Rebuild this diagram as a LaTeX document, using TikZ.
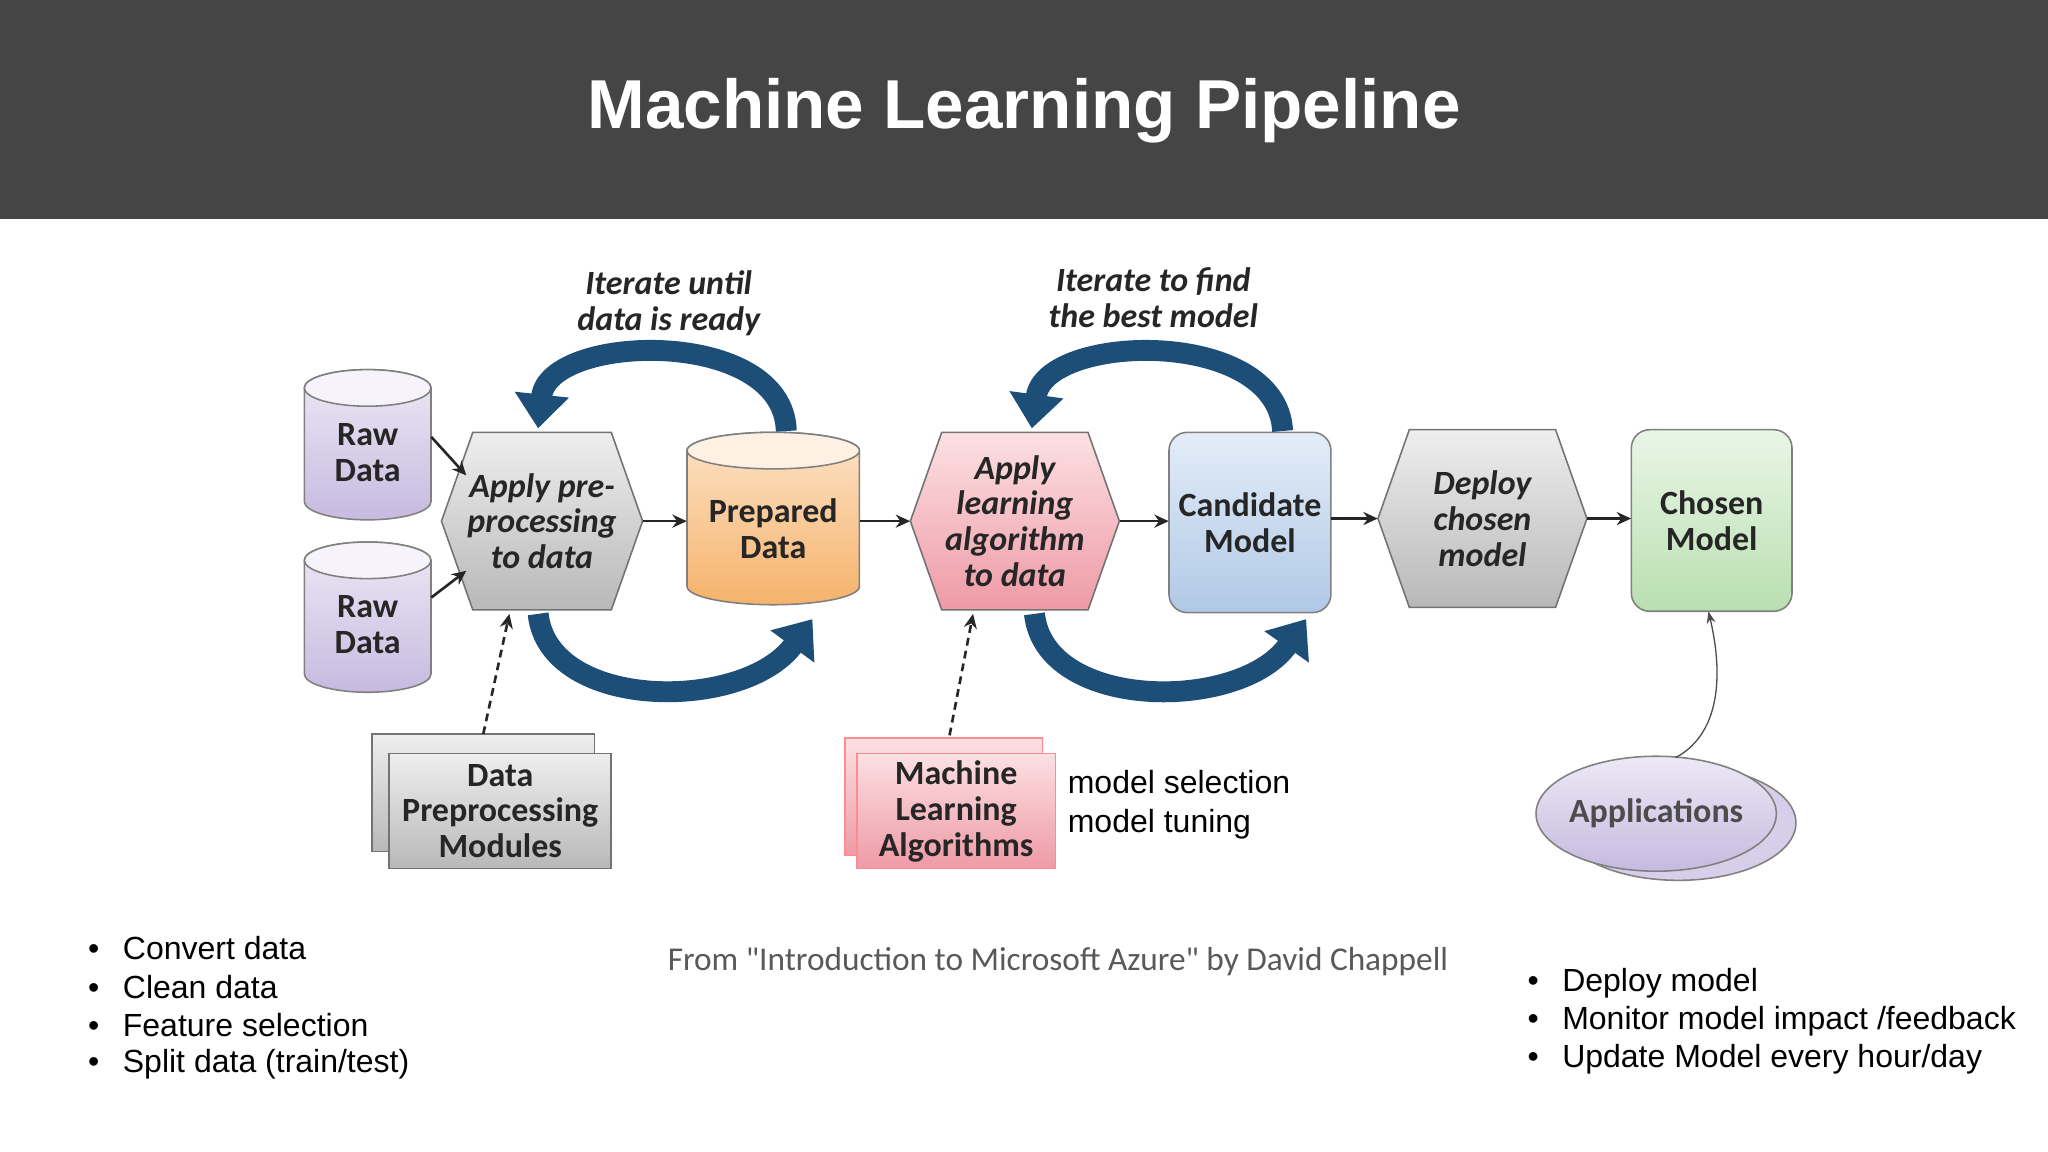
\documentclass[tikz,border=0pt]{standalone}
\usepackage{fontspec}
\setmainfont{Liberation Sans}
\newfontfamily\dgm{Carlito}
\usetikzlibrary{arrows.meta,shapes.geometric}
\definecolor{bigblue}{HTML}{1C4E78}
\definecolor{rtop}{HTML}{EDE9F6}\definecolor{rbot}{HTML}{C6BADF}
\definecolor{gtop}{HTML}{EEEEEE}\definecolor{gbot}{HTML}{B8B8B8}
\definecolor{otop}{HTML}{FDE3C8}\definecolor{obot}{HTML}{F5B26B}
\definecolor{ptop}{HTML}{FCE0E3}\definecolor{pbot}{HTML}{EE9AA5}
\definecolor{btop}{HTML}{E3EDF8}\definecolor{bbot}{HTML}{B0C8E6}
\definecolor{ctop2}{HTML}{E9F6E6}\definecolor{cbot}{HTML}{B9DFB0}
\begin{document}
\begin{tikzpicture}[x=1pt,y=-1pt,
  lbl/.style={font=\dgm\bfseries\fontsize{26}{27.5}\selectfont,align=center,text=black!85},
  ilbl/.style={font=\dgm\bfseries\itshape\fontsize{26}{27.5}\selectfont,align=center,text=black!85},
  flow/.style={-{Stealth[length=11,width=10]},line width=2pt,black!85},
  big/.style={line width=16pt,color=bigblue,-{Triangle[width=40pt,length=26pt]}},
  bul/.style={anchor=west,font=\fontsize{24.5}{26}\selectfont,text=black}]
\useasboundingbox (0,0) rectangle (1568,882);
\fill[white] (0,0) rectangle (1568,882);
\fill[black!73] (0,0) rectangle (1568,168);
\node (title) at (784,85) {\fontsize{53}{56}\selectfont\bfseries\color{white}Machine Learning Pipeline};
\newcommand\mycyl[7]{%
  \colorlet{ctop}{#6}
  \pgfmathsetmacro\rx{(#4-#2)/2}\pgfmathsetmacro\cx{(#4+#2)/2}
  \shade[top color=#6,bottom color=#7,draw=black!50,line width=1.2pt]
    (#2,#3+14) -- (#2,#5-14) arc[start angle=180,end angle=0,x radius=\rx,y radius=14] -- (#4,#3+14) arc[start angle=0,end angle=-180,x radius=\rx,y radius=14] -- cycle;
  \filldraw[fill=ctop!50!white,draw=black!50,line width=1.2pt] (\cx,#3+14) ellipse[x radius=\rx,y radius=14];
  \node[minimum width=#4-#2,minimum height=#5-#3,inner sep=0] (#1) at (\cx,{(#3+#5)/2}) {};}
\newcommand\hexa[7]{%
  \pgfmathsetmacro\my{(#3+#5)/2}
  \shade[top color=#6,bottom color=#7,draw=black!55,line width=1.2pt]
    (#2,\my) -- (#2+24,#3) -- (#4-24,#3) -- (#4,\my) -- (#4-24,#5) -- (#2+24,#5) -- cycle;
  \node[minimum width=#4-#2,minimum height=#5-#3,inner sep=0] (#1) at ({(#2+#4)/2},\my) {};}
\newcommand\rbox[7]{%
  \shade[top color=#6,bottom color=#7,draw=black!50,line width=1.2pt,rounded corners=14] (#2,#3) rectangle (#4,#5);
  \node[minimum width=#4-#2,minimum height=#5-#3,inner sep=0] (#1) at ({(#2+#4)/2},{(#3+#5)/2}) {};}
\mycyl{raw1}{233}{283}{330}{398}{rtop}{rbot}
\node[lbl] at ([yshift=-6]raw1.center) {Raw\\Data};
\mycyl{raw2}{233}{415}{330}{530}{rtop}{rbot}
\node[lbl] at ([yshift=-6]raw2.center) {Raw\\Data};
\hexa{pre}{338}{331}{492}{467}{gtop}{gbot}
\node[ilbl] at (pre) {Apply pre-\\processing\\to data};
\mycyl{prep}{526}{331}{658}{463}{otop}{obot}
\node[lbl] at ([yshift=-8]prep.center) {Prepared\\Data};
\hexa{learn}{697}{331}{857}{467}{ptop}{pbot}
\node[ilbl] at (learn) {Apply\\learning\\algorithm\\to data};
\rbox{cand}{895}{331}{1019}{469}{btop}{bbot}
\node[lbl] at (cand) {Candidate\\Model};
\hexa{deploy}{1055}{329}{1215}{465}{gtop}{gbot}
\node[ilbl] at (deploy) {Deploy\\chosen\\model};
\rbox{chosen}{1249}{329}{1372}{468}{ctop2}{cbot}
\node[lbl] at (chosen) {Chosen\\Model};
\draw[flow] (raw1.east) ++(0,-6) -- (357,364);
\draw[flow] (raw2.east) ++(0,-15) -- (357,437);
\draw[flow] (pre.east) -- (prep.west |- pre.east);
\draw[flow] (prep.east |- learn.west) -- (learn.west);
\draw[flow] (learn.east) -- (cand.west |- learn.east);
\draw[flow] (cand.east |- deploy.west) -- (deploy.west);
\draw[flow] (deploy.east) -- (chosen.west |- deploy.east);
\draw[big] (602,330) .. controls (600,250) and (420,255) .. (412,328);
\draw[big] (412,470) .. controls (420,545) and (570,545) .. (622,474);
\draw[big] (982,330) .. controls (978,250) and (800,255) .. (790,328);
\draw[big] (792,470) .. controls (800,545) and (950,545) .. (1000,474);
\node[ilbl] (it1) at (512,232) {Iterate until\\data is ready};
\node[ilbl] (it2) at (883,228) {Iterate to find\\the best model};
\shade[top color=gtop,bottom color=gbot,draw=black!55,line width=1.2pt] (285,562) rectangle (455,652);
\shade[top color=gtop,bottom color=gbot,draw=black!55,line width=1.2pt] (298,577) rectangle (468,665);
\node[lbl] (dpm) at (383,621) {Data\\Preprocessing\\Modules};
\shade[top color=ptop,bottom color=pbot,draw=red!45,line width=1.2pt] (647,565) rectangle (798,655);
\shade[top color=ptop,bottom color=pbot,draw=red!45,line width=1.2pt] (656,577) rectangle (808,665);
\node[lbl] (mla) at (732,621) {Machine\\Learning\\Algorithms};
\draw[flow,dash pattern=on 6pt off 4pt] (370,562) -- (390,470);
\draw[flow,dash pattern=on 6pt off 4pt] (727,563) -- (745,470);
\node[anchor=west,font=\fontsize{24.5}{30}\selectfont,align=left] (ms) at (814,616) {model selection\\model tuning};
\filldraw[fill=rbot!70!white,draw=black!50,line width=1.2pt] (1285,630) ellipse[x radius=90,y radius=44];
\shade[top color=rtop,bottom color=rbot,draw=black!50,line width=1.2pt] (1268,623) ellipse[x radius=92,y radius=44];
\node[lbl,text=black!70] (app) at (1268,623) {Applications};
\draw[-{Stealth[length=9]},black!70,line width=1pt] (1283,580) .. controls (1320,560) and (1318,510) .. (chosen.south -| 1308,0);
\node[text=black!65,font=\dgm\fontsize{25.5}{28}\selectfont] (cap) at (810,736) {From "Introduction to Microsoft Azure" by David Chappell};
\node[bul] (l1) at (64,726) {\textbullet\hspace{18pt}Convert data};
\node[bul] (l2) at (64,756) {\textbullet\hspace{18pt}Clean data};
\node[bul] (l3) at (64,785) {\textbullet\hspace{18pt}Feature selection};
\node[bul] (l4) at (64,815) {\textbullet\hspace{18pt}Split data (train/test)};
\node[bul] (r1) at (1166,753) {\textbullet\hspace{18pt}Deploy model};
\node[bul] (r2) at (1166,782) {\textbullet\hspace{18pt}Monitor model impact /feedback};
\node[bul] (r3) at (1166,811) {\textbullet\hspace{18pt}Update Model every hour/day};
\end{tikzpicture}
\end{document}
